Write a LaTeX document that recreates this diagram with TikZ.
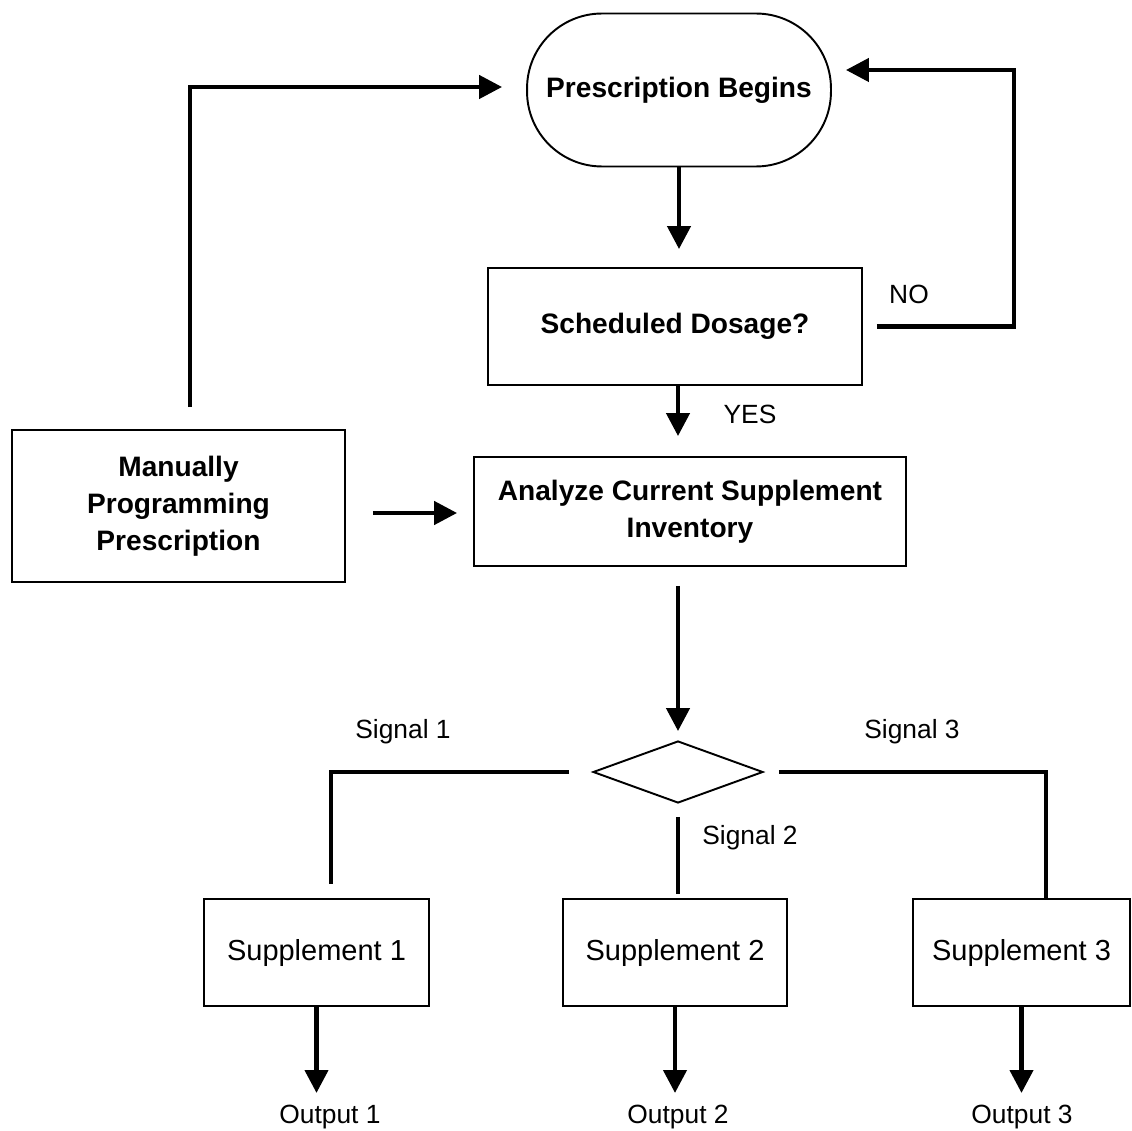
\documentclass[tikz,border=0pt]{standalone}
\usepackage{fontspec}
\setmainfont{Liberation Sans}
\usetikzlibrary{shapes,arrows.meta}

\begin{document}
\begin{tikzpicture}[x=0.02cm, y=-0.02cm]
\tikzstyle{vertexr}=[rectangle, draw=black, line width=1.1pt, inner sep=2pt, align=center, font=\fontsize{16}{21}\selectfont\bfseries]
\tikzstyle{vertext}=[vertexr, rounded corners=1.5cm, minimum width=6.08cm, minimum height=3.06cm]
\tikzstyle{vertexs}=[rectangle, draw=black, line width=1.1pt, minimum height=2.14cm, font=\fontsize{16.5}{20}\selectfont]
\tikzstyle{vertexd}=[diamond, draw=black, line width=1.1pt, inner sep=0pt, minimum width=3.4cm, minimum height=1.24cm]
\tikzstyle{labelstyle}=[inner sep=1pt, font=\fontsize{15}{18}\selectfont]
\tikzstyle{drawstyle}=[line width=2.5pt, -{Triangle[width=13pt,length=13pt]}]
\tikzstyle{linestyle}=[line width=2.5pt]

\useasboundingbox (0,0) rectangle (1132,1131);

\node[vertext] (Gbegin) at (679,90) {Prescription Begins};
\node[vertexr, minimum width=7.48cm, minimum height=2.34cm] (Gdose) at (675,326.5) {Scheduled Dosage?};
\node[vertexr, minimum width=8.64cm, minimum height=2.18cm] (Ganalyze) at (690,511.5) {Analyze Current Supplement\\Inventory};
\node[vertexr, minimum width=6.66cm, minimum height=3.04cm] (Gmanual) at (178.5,506) {Manually\\Programming\\Prescription};
\node[vertexd] (Gdiamond) at (678,772) {};
\node[vertexs, minimum width=4.5cm] (Gsup1) at (316.5,952.5) {Supplement 1};
\node[vertexs, minimum width=4.48cm] (Gsup2) at (675,952.5) {Supplement 2};
\node[vertexs, minimum width=4.34cm] (Gsup3) at (1021.5,952.5) {Supplement 3};

\node[labelstyle] (Gno) at (909,294) {NO};
\node[labelstyle] (Gyes) at (750,414) {YES};
\node[labelstyle] (Gsiglabel1) at (403,732) {Signal 1};
\node[labelstyle] (Gsiglabel2) at (750,838) {Signal 2};
\node[labelstyle] (Gsiglabel3) at (912,732) {Signal 3};
\node[labelstyle] (Gout1) at (330,1117) {Output 1};
\node[labelstyle] (Gout2) at (678,1117) {Output 2};
\node[labelstyle] (Gout3) at (1022,1117) {Output 3};

\coordinate (Gnocorner) at (1014,70);
\coordinate (Gmancorner) at (190,87);
\coordinate (Gsig1) at (331,772);
\coordinate (Gsig3) at (1046,772);

\draw[drawstyle, shorten >=0.36cm] (Gbegin) -- (Gbegin |- Gdose.north);
\draw[drawstyle, shorten <=0.28cm, shorten >=0.28cm] (Gdose) -| (Gnocorner) -- (Gbegin.east |- Gnocorner);
\draw[drawstyle, shorten >=0.4cm] (Gdose.south -| Gdiamond) -- (Ganalyze.north -| Gdiamond);
\draw[drawstyle, shorten <=0.44cm, shorten >=0.48cm] (Gmanual.north -| Gmancorner) -- (Gmancorner) -- (Gbegin.west |- Gmancorner);
\draw[drawstyle, shorten <=0.54cm, shorten >=0.32cm] ([yshift=-0.14cm]Gmanual.east) -- ([yshift=-0.14cm]Gmanual.east -| Ganalyze.west);
\draw[drawstyle, shorten <=0.38cm, shorten >=0.18cm] (Ganalyze.south -| Gdiamond) -- (Gdiamond.north);
\draw[linestyle, shorten <=0.46cm, shorten >=0.28cm] (Gdiamond.west) -- (Gsig1) -- (Gsig1 |- Gsup1.north);
\draw[linestyle, shorten <=0.26cm, shorten >=0.08cm] (Gdiamond.south) -- (Gdiamond.south |- Gsup2.north);
\draw[linestyle, shorten <=0.3cm] (Gdiamond.east) -- (Gsig3) -- (Gsig3 |- Gsup3.north);
\draw[drawstyle, shorten >=0.2cm] (Gsup1.south) -- (Gsup1.south |- Gout1.north);
\draw[drawstyle, shorten >=0.2cm] (Gsup2.south) -- (Gsup2.south |- Gout2.north);
\draw[drawstyle, shorten >=0.2cm] (Gsup3.south) -- (Gsup3.south |- Gout3.north);
\end{tikzpicture}
\end{document}
